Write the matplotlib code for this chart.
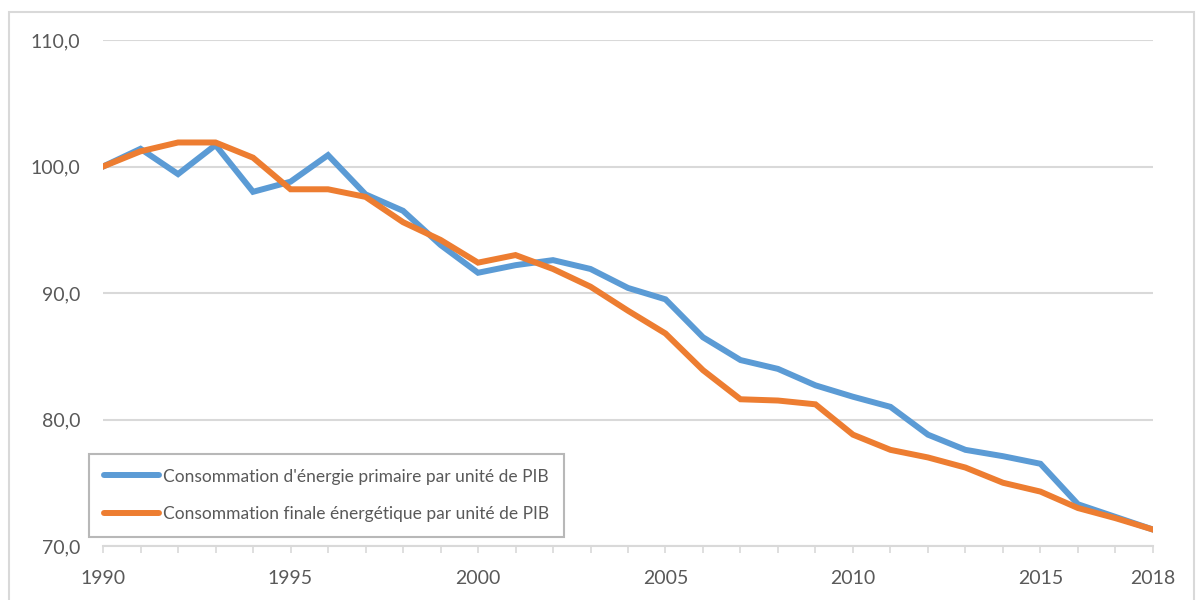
"""Consommation d'énergie par unité de PIB, indice base 100 en 1990."""
import matplotlib
matplotlib.use("Agg")
import matplotlib.pyplot as plt
from matplotlib.patches import Rectangle
from matplotlib.ticker import FuncFormatter

# Données
annees = list(range(1990, 2019))
primaire = [100.0, 101.4, 99.4, 101.7, 98.0, 98.8, 100.9, 97.8, 96.5, 93.8,
            91.6, 92.2, 92.6, 91.9, 90.4, 89.5, 86.5, 84.7, 84.0, 82.7,
            81.8, 81.0, 78.8, 77.6, 77.1, 76.5, 73.3, 72.3, 71.3]
finale = [100.0, 101.2, 101.9, 101.9, 100.7, 98.2, 98.2, 97.6, 95.6, 94.2,
          92.4, 93.0, 91.9, 90.5, 88.6, 86.8, 83.9, 81.6, 81.5, 81.2,
          78.8, 77.6, 77.0, 76.2, 75.0, 74.3, 73.0, 72.2, 71.3]
etiquettes_x = [1990, 1995, 2000, 2005, 2010, 2015, 2018]
graduations_y = [70, 80, 90, 100, 110]

noms = ["Consommation d'énergie primaire par unité de PIB",
        "Consommation finale énergétique par unité de PIB"]
BLEU = "#5B9BD5"
ORANGE = "#ED7D31"
GRIS = "#D9D9D9"
TEXTE = "#595959"

plt.rcParams['font.family'] = ['Lato', 'DejaVu Sans']

fig = plt.figure(figsize=(12.01, 6.0), dpi=100)
ax = fig.add_axes([0.0858, 0.09, 0.8742, 0.8433])

# cadre de la zone graphique
fig.patches.append(Rectangle((9 / 1201, -0.05), 1185 / 1201, 1.05 - 12 / 600,
                             transform=fig.transFigure, fill=False,
                             edgecolor=GRIS, linewidth=1.5))

ax.plot(annees, primaire, color=BLEU, linewidth=4.3, label=noms[0],
        solid_joinstyle="miter", zorder=3)
ax.plot(annees, finale, color=ORANGE, linewidth=4.3, label=noms[1],
        solid_joinstyle="miter", zorder=4)

ax.set_xlim(annees[0], annees[-1])
ax.set_ylim(graduations_y[0], graduations_y[-1])

ax.set_yticks(graduations_y)
ax.yaxis.set_major_formatter(FuncFormatter(lambda v, p: f"{v:.1f}".replace(".", ",")))
ax.tick_params(axis="y", length=0, pad=16.5, labelsize=14, labelcolor=TEXTE)
ax.grid(True, axis="y", color=GRIS, linewidth=1.5)
ax.set_axisbelow(True)

ax.set_xticks(annees)
ax.set_xticklabels([str(a) if a in etiquettes_x else "" for a in annees])
ax.tick_params(axis="x", length=5, width=1.2, color=GRIS, pad=12,
               labelsize=14, labelcolor=TEXTE)

for s in ["top", "right", "left"]:
    ax.spines[s].set_visible(False)
ax.spines["bottom"].set_color(GRIS)
ax.spines["bottom"].set_linewidth(1.5)

leg = ax.legend(loc="lower left", bbox_to_anchor=(-0.0134, 0.0178),
                frameon=True, fancybox=False, fontsize=12.5,
                handlelength=3.2, handletextpad=0.2, labelspacing=1.25,
                borderpad=0.85, borderaxespad=0)
leg.get_frame().set_edgecolor("#A6A6A6")
leg.get_frame().set_linewidth(1.5)
for t in leg.get_texts():
    t.set_color(TEXTE)
for h in leg.get_lines():
    h.set_solid_capstyle("round")

fig.savefig("out.png", dpi=100, facecolor="white")
